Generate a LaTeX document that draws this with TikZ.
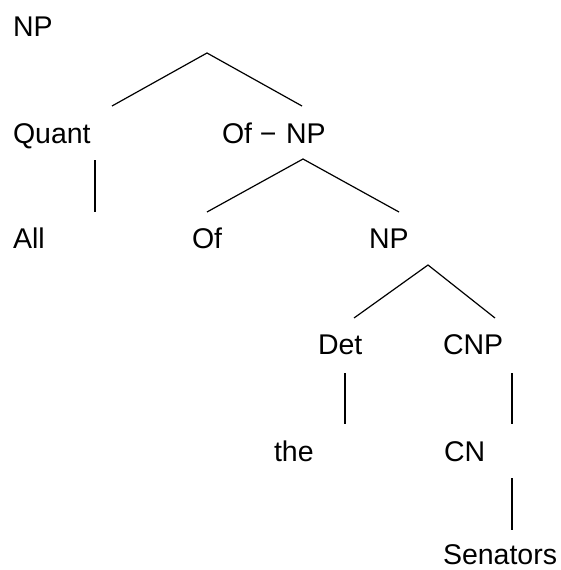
\documentclass[tikz,border=0pt]{standalone}
\usepackage{fontspec}
\setmainfont{Liberation Sans}
\begin{document}
\begin{tikzpicture}[x=1pt,y=-1pt,
  lbl/.style={anchor=base west,inner sep=0pt,outer sep=0pt,font=\fontsize{28.5}{32}\selectfont},
  edge/.style={line width=1.2pt,line cap=butt},
  vedge/.style={line width=2pt}]
\useasboundingbox (0,0) rectangle (561,570);
\node[lbl] (np1) at (13,36) {NP};
\node[lbl] (quant) at (13,143) {Quant};
\node[lbl] (ofnp) at (222,143) {Of −\kern1.5pt\ NP};
\node[lbl] (all) at (13,248) {All};
\node[lbl] (of) at (192,248) {Of};
\node[lbl] (np2) at (369,248) {NP};
\node[lbl] (det) at (318,354) {Det};
\node[lbl] (cnp) at (443,354) {CNP};
\node[lbl] (the) at (274,461) {the};
\node[lbl] (cn) at (444,461) {CN};
\node[lbl] (sen) at (443,564) {Senators};
% connector ends
\coordinate (a0) at (207,53);
\coordinate (a1) at (112,106);
\coordinate (a2) at (302,106);
\coordinate (b0) at (95,160);
\coordinate (b1) at (95,212);
\coordinate (c0) at (303,159);
\coordinate (c1) at (207,212);
\coordinate (c2) at (399,212);
\coordinate (d0) at (428,265);
\coordinate (d1) at (354,318);
\coordinate (d2) at (495,318);
\coordinate (e0) at (345,373);
\coordinate (e1) at (345,424);
\coordinate (f0) at (512,373);
\coordinate (f1) at (512,424);
\coordinate (g0) at (512,478);
\coordinate (g1) at (512,530);
\draw[edge] (a1) -- (a0) -- (a2);
\draw[vedge] (b0) -- (b1);
\draw[edge] (c1) -- (c0) -- (c2);
\draw[edge] (d1) -- (d0) -- (d2);
\draw[vedge] (e0) -- (e1);
\draw[vedge] (f0) -- (f1);
\draw[vedge] (g0) -- (g1);
\end{tikzpicture}
\end{document}
